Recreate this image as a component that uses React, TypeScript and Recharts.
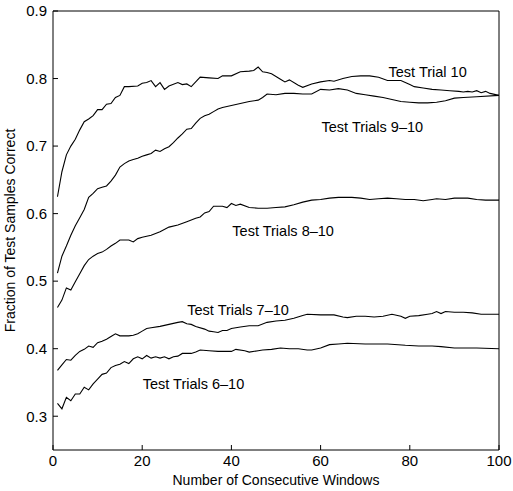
import { LineChart, Line, XAxis, YAxis, ReferenceDot } from 'recharts';

// Fraction of test samples correct vs. number of consecutive windows
const trial10X = [1, 2, 3, 4, 5, 6, 7, 8, 9, 10, 11, 12, 13, 14, 15, 16, 17, 19, 20, 21, 22, 23, 24, 25, 26, 28, 29, 30, 31, 33, 35, 37, 38, 40, 42, 44, 45, 46, 47, 48, 49, 51, 52, 53, 55, 56, 58, 60, 62, 63, 65, 67, 69, 71, 73, 75, 77, 78, 80, 81, 83, 85, 87, 89, 91, 92, 93, 94, 95, 96, 97, 98, 100];
const trial10Y = [0.625, 0.662, 0.687, 0.7, 0.71, 0.724, 0.736, 0.74, 0.745, 0.754, 0.754, 0.762, 0.763, 0.772, 0.775, 0.788, 0.788, 0.789, 0.793, 0.794, 0.797, 0.788, 0.794, 0.784, 0.789, 0.794, 0.791, 0.792, 0.788, 0.802, 0.801, 0.8, 0.804, 0.804, 0.81, 0.811, 0.812, 0.817, 0.81, 0.809, 0.807, 0.799, 0.795, 0.798, 0.79, 0.787, 0.792, 0.795, 0.797, 0.796, 0.8, 0.803, 0.804, 0.804, 0.802, 0.797, 0.797, 0.797, 0.791, 0.788, 0.786, 0.784, 0.783, 0.782, 0.781, 0.78, 0.781, 0.78, 0.782, 0.779, 0.781, 0.778, 0.775];

const trials9X = [1, 2, 3, 4, 5, 6, 7, 8, 9, 10, 11, 12, 13, 14, 15, 16, 17, 18, 19, 20, 21, 22, 23, 24, 25, 26, 27, 28, 29, 30, 31, 32, 33, 34, 35, 36, 37, 38, 40, 42, 44, 46, 47, 48, 50, 52, 54, 56, 58, 60, 62, 64, 66, 68, 70, 72, 74, 76, 78, 80, 82, 84, 86, 88, 90, 92, 95, 100];
const trials9Y = [0.512, 0.537, 0.552, 0.568, 0.582, 0.594, 0.606, 0.624, 0.63, 0.637, 0.639, 0.641, 0.648, 0.657, 0.669, 0.674, 0.678, 0.68, 0.682, 0.685, 0.687, 0.689, 0.694, 0.692, 0.696, 0.699, 0.705, 0.712, 0.718, 0.725, 0.726, 0.734, 0.741, 0.745, 0.747, 0.751, 0.755, 0.757, 0.76, 0.763, 0.766, 0.768, 0.772, 0.777, 0.776, 0.778, 0.778, 0.777, 0.777, 0.784, 0.783, 0.785, 0.783, 0.778, 0.776, 0.774, 0.772, 0.769, 0.766, 0.765, 0.764, 0.764, 0.765, 0.767, 0.771, 0.772, 0.773, 0.775];

const trials8X = [1, 2, 3, 4, 5, 6, 7, 8, 9, 10, 11, 12, 13, 14, 15, 16, 17, 18, 19, 20, 22, 24, 26, 28, 30, 32, 33, 34, 35, 36, 38, 39, 40, 41, 42, 44, 46, 48, 50, 52, 54, 56, 58, 60, 62, 64, 67, 69, 71, 73, 75, 77, 79, 81, 83, 85, 86, 88, 90, 93, 95, 97, 100];
const trials8Y = [0.461, 0.472, 0.49, 0.487, 0.499, 0.511, 0.523, 0.532, 0.537, 0.541, 0.543, 0.547, 0.552, 0.556, 0.561, 0.561, 0.561, 0.558, 0.563, 0.565, 0.568, 0.573, 0.58, 0.583, 0.588, 0.593, 0.595, 0.601, 0.603, 0.611, 0.611, 0.609, 0.615, 0.612, 0.614, 0.609, 0.608, 0.608, 0.609, 0.61, 0.613, 0.617, 0.62, 0.621, 0.623, 0.624, 0.624, 0.623, 0.621, 0.622, 0.623, 0.622, 0.621, 0.621, 0.619, 0.621, 0.622, 0.621, 0.623, 0.623, 0.621, 0.62, 0.62];

const trials7X = [1, 2, 3, 4, 5, 6, 7, 8, 9, 10, 11, 12, 13, 14, 15, 16, 17, 18, 19, 20, 21, 22, 24, 26, 28, 29, 30, 31, 32, 34, 35, 36, 37, 38, 39, 40, 42, 44, 46, 48, 50, 52, 54, 56, 57, 60, 63, 65, 66, 68, 70, 72, 74, 76, 78, 79, 80, 82, 84, 85, 86, 87, 88, 90, 92, 94, 96, 98, 100];
const trials7Y = [0.368, 0.376, 0.384, 0.383, 0.39, 0.396, 0.399, 0.404, 0.402, 0.409, 0.411, 0.414, 0.418, 0.422, 0.419, 0.419, 0.419, 0.42, 0.422, 0.426, 0.43, 0.431, 0.433, 0.436, 0.439, 0.44, 0.437, 0.436, 0.433, 0.429, 0.426, 0.425, 0.424, 0.427, 0.427, 0.43, 0.432, 0.434, 0.434, 0.439, 0.441, 0.442, 0.445, 0.449, 0.451, 0.45, 0.45, 0.447, 0.446, 0.448, 0.448, 0.447, 0.448, 0.451, 0.448, 0.445, 0.448, 0.449, 0.451, 0.452, 0.455, 0.452, 0.455, 0.454, 0.454, 0.453, 0.451, 0.451, 0.451];

const trials6X = [1, 2, 3, 4, 5, 6, 7, 8, 9, 10, 11, 12, 13, 14, 15, 16, 17, 18, 19, 20, 21, 22, 23, 24, 25, 26, 27, 28, 29, 31, 32, 33, 35, 37, 40, 41, 43, 44, 46, 47, 49, 51, 53, 55, 57, 58, 60, 62, 64, 66, 70, 75, 79, 82, 85, 87, 90, 95, 100];
const trials6Y = [0.319, 0.311, 0.328, 0.323, 0.333, 0.333, 0.343, 0.339, 0.348, 0.355, 0.362, 0.364, 0.372, 0.375, 0.377, 0.381, 0.378, 0.385, 0.388, 0.385, 0.39, 0.386, 0.388, 0.386, 0.388, 0.385, 0.388, 0.389, 0.393, 0.393, 0.395, 0.398, 0.397, 0.396, 0.396, 0.399, 0.397, 0.395, 0.397, 0.398, 0.399, 0.401, 0.4, 0.4, 0.398, 0.398, 0.401, 0.406, 0.407, 0.408, 0.407, 0.407, 0.405, 0.404, 0.404, 0.403, 0.401, 0.401, 0.4];

const xTicks = [0, 20, 40, 60, 80, 100];
const yTicks = [0.3, 0.4, 0.5, 0.6, 0.7, 0.8, 0.9];

const seriesNames = ['Test Trial 10', 'Test Trials 9–10', 'Test Trials 8–10', 'Test Trials 7–10', 'Test Trials 6–10'];
const labelX = [84, 71.6, 51.6, 41.5, 31.5];
const labelY = [0.81, 0.7286, 0.574, 0.458, 0.348];

const zip = (xs: number[], ys: number[]) => xs.map((x, i) => ({ x, y: ys[i] }));

const series = [
  zip(trial10X, trial10Y),
  zip(trials9X, trials9Y),
  zip(trials8X, trials8Y),
  zip(trials7X, trials7Y),
  zip(trials6X, trials6Y),
];

const font = '"Liberation Sans", Arial, Helvetica, sans-serif';

export default function App() {
  return (
    <div style={{ position: 'absolute', left: 0, top: 0, width: 513, height: 491, background: '#fff', fontFamily: font }}>
      <LineChart width={513} height={491} margin={{ top: 10, right: 13, left: 0, bottom: 0 }}>
        <XAxis
          xAxisId="b"
          type="number"
          dataKey="x"
          domain={[0, 100]}
          ticks={xTicks}
          allowDataOverflow
          height={41}
          stroke="#000"
          tickSize={-5}
          tickMargin={10}
          tick={{ fill: '#000', fontSize: 15, fontFamily: font }}
          label={{ value: 'Number of Consecutive Windows', position: 'insideBottom', offset: 6, fill: '#000', fontSize: 14, fontFamily: font }}
        />
        <XAxis
          xAxisId="t"
          orientation="top"
          type="number"
          dataKey="x"
          domain={[0, 100]}
          ticks={xTicks}
          height={1}
          stroke="#000"
          tickSize={-5}
          tick={false}
        />
        <YAxis
          yAxisId="l"
          type="number"
          domain={[0.25, 0.9]}
          ticks={yTicks}
          allowDataOverflow
          width={53}
          stroke="#000"
          tickSize={-5}
          tickMargin={11}
          tickFormatter={(v: number) => v.toFixed(1)}
          tick={{ fill: '#000', fontSize: 15, fontFamily: font }}
          label={{ value: 'Fraction of Test Samples Correct', angle: -90, position: 'insideLeft', offset: 10, fill: '#000', fontSize: 14, fontFamily: font, style: { textAnchor: 'middle' } }}
        />
        <YAxis
          yAxisId="r"
          orientation="right"
          type="number"
          domain={[0.25, 0.9]}
          ticks={yTicks}
          width={1}
          stroke="#000"
          tickSize={-5}
          tick={false}
        />
        {series.map((d, i) => (
          <Line
            key={seriesNames[i]}
            xAxisId="b"
            yAxisId="l"
            data={d}
            dataKey="y"
            type="linear"
            stroke="#000"
            strokeWidth={1.1}
            dot={false}
            activeDot={false}
            isAnimationActive={false}
          />
        ))}
        {seriesNames.map((name, i) => (
          <ReferenceDot
            key={'lbl' + i}
            xAxisId="b"
            yAxisId="l"
            x={labelX[i]}
            y={labelY[i]}
            r={0}
            stroke="none"
            fill="none"
            label={{ value: name, position: 'center', fill: '#000', fontSize: 14.5, fontFamily: font }}
          />
        ))}
      </LineChart>
    </div>
  );
}
